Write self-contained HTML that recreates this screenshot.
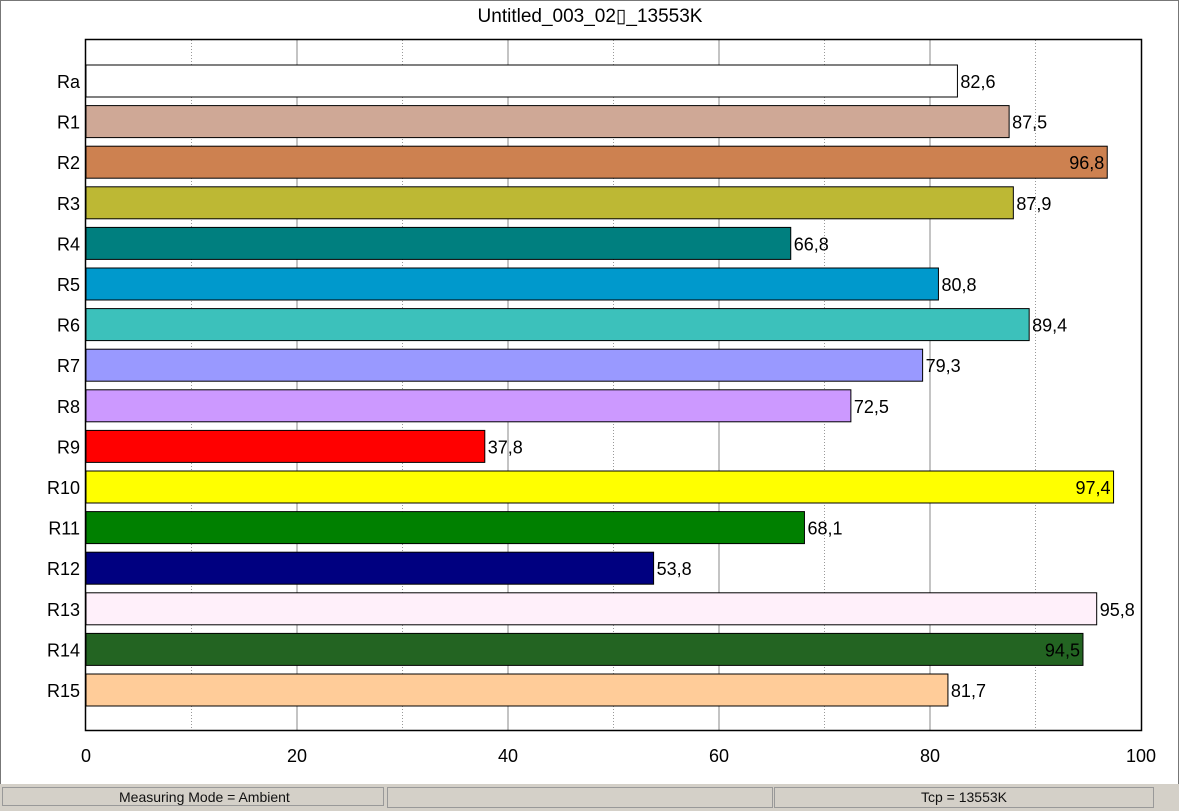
<!DOCTYPE html>
<html><head><meta charset="utf-8"><style>
body{margin:0;width:1179px;height:811px;background:#fff;font-family:"Liberation Sans",sans-serif;overflow:hidden;position:relative}
#frame{position:absolute;left:0;top:0;width:1177px;height:809px;border:1px solid #777}
#status{position:absolute;left:0;top:784px;width:1179px;height:27px;background:#d4d0c8}
.pn{position:absolute;top:3px;height:19px;border:1px solid #999;font-size:14px;line-height:19px;color:#111}
</style></head><body>
<div id="frame"></div>
<svg id="chart" width="1179" height="784" style="position:absolute;left:0;top:0"></svg>
<div id="status">
<div class="pn" style="left:2px;width:382px;padding-left:116px;box-sizing:border-box">Measuring Mode = Ambient</div>
<div class="pn" style="left:387px;width:384px"></div>
<div class="pn" style="left:774px;width:378px;text-align:center">Tcp = 13553K</div>
</div>
<script>
const categories=["Ra","R1","R2","R3","R4","R5","R6","R7","R8","R9","R10","R11","R12","R13","R14","R15"];
const values=[82.6,87.5,96.8,87.9,66.8,80.8,89.4,79.3,72.5,37.8,97.4,68.1,53.8,95.8,94.5,81.7];
const colors=["#ffffff","#cfa896","#cd8150","#bdb834","#007f7f","#0099cc","#3cc1bb","#9999ff","#cc99ff","#ff0000","#ffff00","#008000","#000080","#fff0fa","#236422","#ffcc99"];
const labelInside=[0,0,1,0,0,0,0,0,0,0,1,0,0,0,1,0];
const xTicks=[0,20,40,60,80,100];
const NS="http://www.w3.org/2000/svg";
const svg=document.getElementById('chart');
const L=86,R=1141,T=40,B=730;
const x=v=>L+(R-L)*v/100;
const yc=i=>81+i*40.6;
function mk(t,a,txt){const e=document.createElementNS(NS,t);for(const k in a)e.setAttribute(k,a[k]);if(txt!=null)e.textContent=txt;svg.appendChild(e);return e;}
const title=mk('text',{x:590,y:22,'text-anchor':'middle','font-size':19,fill:'#000'},'Untitled_003_02\u25AF_13553K');


const bg=mk('rect',{x:L,y:T,width:R-L,height:B-T,fill:'#fff',stroke:'none'});


for(let v=10;v<100;v+=10){
 const g=mk('line',{x1:x(v),x2:x(v),y1:T,y2:B,stroke:v%20?'#999':'#888','stroke-width':1,'stroke-dasharray':v%20?'1,2':'none'});
 
 
}
xTicks.forEach(v=>{
 const t=mk('text',{x:x(v),y:762,'text-anchor':'middle','font-size':18,fill:'#000'},String(v));
 
 
});
categories.forEach((c,i)=>{
 const cy=yc(i);
 const l=mk('text',{x:80,y:cy+7,'text-anchor':'end','font-size':18,fill:'#000'},c);
 
 
 const b=mk('rect',{x:L,y:cy-16,width:x(values[i])-L,height:32,fill:colors[i],stroke:'#000','stroke-width':1});
 
 
 const txt=values[i].toFixed(1).replace('.',',');
 const vl=labelInside[i]?mk('text',{x:x(values[i])-3,y:cy+7,'text-anchor':'end','font-size':18,fill:'#000'},txt):mk('text',{x:x(values[i])+3,y:cy+7,'font-size':18,fill:'#000'},txt);
 
 
});
const bd=mk('rect',{x:L-0.5,y:T-0.5,width:R-L+1,height:B-T+1,fill:'none',stroke:'#000','stroke-width':1.5});


</script>
</body></html>
